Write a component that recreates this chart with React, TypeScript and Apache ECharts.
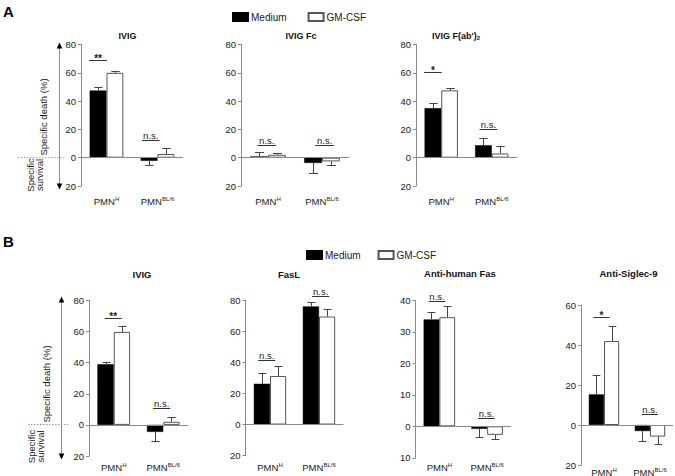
import React, { useEffect, useRef } from 'react';
import * as echarts from 'echarts';

// ---------- data ----------
const categories = ['PMN^H', 'PMN^BL/6'];
const seriesNames = ['Medium', 'GM-CSF'];

// Panel A – IVIG
const aIvigMedium = [47.5, -2.2];
const aIvigMediumErr = [2.5, 3];
const aIvigGm = [60, 2.6];
const aIvigGmErr = [1, 4.5];
const aIvigSig = ['**', 'n.s.'];
const aIvigSigAt = [69, 12.3];

// Panel A – IVIG Fc
const aFcMedium = [0.9, -3.7];
const aFcMediumErr = [3.1, 7.1];
const aFcGm = [2.1, -2.6];
const aFcGmErr = [1.2, 2.5];
const aFcSig = ['n.s.', 'n.s.'];
const aFcSigAt = [9.2, 9.2];

// Panel A – IVIG F(ab')2
const aFabMedium = [35, 8.8];
const aFabMediumErr = [4, 5.4];
const aFabGm = [47.6, 3];
const aFabGmErr = [1.8, 5.1];
const aFabSig = ['*', 'n.s.'];
const aFabSigAt = [60.5, 20];

// Panel B – IVIG
const bIvigMedium = [39, -4.5];
const bIvigMediumErr = [1.5, 5.9];
const bIvigGm = [59.8, 2];
const bIvigGmErr = [3.6, 3.2];
const bIvigSig = ['**', 'n.s.'];
const bIvigSigAt = [69, 10.7];

// Panel B – FasL
const bFasLMedium = [26.2, 75.9];
const bFasLMediumErr = [7.1, 2.8];
const bFasLGm = [31.2, 69.4];
const bFasLGmErr = [6.4, 4.8];
const bFasLSig = ['n.s.', 'n.s.'];
const bFasLSigAt = [41.5, 82.8];

// Panel B – Anti-human Fas
const bFasMedium = [34, -0.8];
const bFasMediumErr = [2.2, 2.5];
const bFasGm = [34.7, -2.7];
const bFasGmErr = [3.6, 1.3];
const bFasSig = ['n.s.', 'n.s.'];
const bFasSigAt = [40, 2.6];

// Panel B – Anti-Siglec-9
const bSigMedium = [15.3, -3];
const bSigMediumErr = [9.8, 5];
const bSigGm = [42, -5.8];
const bSigGmErr = [7.5, 3.7];
const bSigSig = ['*', 'n.s.'];
const bSigSigAt = [54, 5.5];

// ---------- layout ----------
const FONT = 'Liberation Sans, Arial, Helvetica, sans-serif';
const AXIS = '#8a8a8a';
const INK = '#1a1a1a';
const ERR = '#444';
const BAR_FRAC = 0.33;

const panels = [
  { title: '{t|IVIG}', tx: 127.5, ty: 35.5, ts: 9, grid: { left: 81, top: 44.5, width: 102, height: 141.5 }, yMin: -20, yMax: 80, yInt: 20, medium: aIvigMedium, mediumErr: aIvigMediumErr, gm: aIvigGm, gmErr: aIvigGmErr, sig: aIvigSig, sigAt: aIvigSigAt, sigShift: [0, 0.1], labelMargin: 10 },
  { title: '{t|IVIG Fc}', tx: 301, ty: 35.5, ts: 9, grid: { left: 241, top: 44.5, width: 108, height: 141.5 }, yMin: -20, yMax: 80, yInt: 20, medium: aFcMedium, mediumErr: aFcMediumErr, gm: aFcGm, gmErr: aFcGmErr, sig: aFcSig, sigAt: aFcSigAt, sigShift: [0.43, 0.65], labelMargin: 10 },
  { title: "{t|IVIG F(ab')}{s|2}", tx: 456, ty: 35.5, ts: 9, grid: { left: 416, top: 44.5, width: 101, height: 141.5 }, yMin: -20, yMax: 80, yInt: 20, medium: aFabMedium, mediumErr: aFabMediumErr, gm: aFabGm, gmErr: aFabGmErr, sig: aFabSig, sigAt: aFabSigAt, sigShift: [0, 0.3], labelMargin: 10 },
  { title: '{t|IVIG}', tx: 142, ty: 274, ts: 9.5, grid: { left: 89, top: 300.5, width: 99, height: 155.5 }, yMin: -20, yMax: 80, yInt: 20, medium: bIvigMedium, mediumErr: bIvigMediumErr, gm: bIvigGm, gmErr: bIvigGmErr, sig: bIvigSig, sigAt: bIvigSigAt, sigShift: [0.47, 0.4], labelMargin: 6 },
  { title: '{t|FasL}', tx: 289, ty: 274, ts: 9.5, grid: { left: 245.5, top: 300, width: 98, height: 155.7 }, yMin: -20, yMax: 80, yInt: 20, medium: bFasLMedium, mediumErr: bFasLMediumErr, gm: bFasLGm, gmErr: bFasLGmErr, sig: bFasLSig, sigAt: bFasLSigAt, sigShift: [0.3, 0.6], labelMargin: 6 },
  { title: '{t|Anti-human Fas}', tx: 460, ty: 273.5, ts: 9.5, grid: { left: 415.5, top: 300.5, width: 95.5, height: 157.3 }, yMin: -10, yMax: 40, yInt: 10, medium: bFasMedium, mediumErr: bFasMediumErr, gm: bFasGm, gmErr: bFasGmErr, sig: bFasSig, sigAt: bFasSigAt, sigShift: [0.35, 0.46], labelMargin: 4.5 },
  { title: '{t|Anti-Siglec-9}', tx: 628.5, ty: 273.5, ts: 9.5, grid: { left: 581, top: 305, width: 92, height: 160 }, yMin: -20, yMax: 60, yInt: 20, medium: bSigMedium, mediumErr: bSigMediumErr, gm: bSigGm, gmErr: bSigGmErr, sig: bSigSig, sigAt: bSigSigAt, sigShift: [0.33, 0.5], labelMargin: 1.5 },
];

function buildOption() {
  const grid: any[] = [];
  const xAxis: any[] = [];
  const yAxis: any[] = [];
  const series: any[] = [];
  const graphic: any[] = [];

  panels.forEach((p, i) => {
    grid.push({ ...p.grid, containLabel: false, outerBoundsMode: 'none' });
    xAxis.push({
      type: 'category',
      gridIndex: i,
      data: categories,
      position: 'bottom',
      axisLine: { show: false, onZero: false },
      axisTick: { show: false },
      splitLine: { show: false },
      axisLabel: {
        margin: p.labelMargin,
        interval: 0,
        formatter: (v: string) => {
          const [b, s] = v.split('^');
          return `{m|${b}}{s|${s}}`;
        },
        rich: {
          m: { fontSize: 9.5, lineHeight: 11, color: INK, fontFamily: FONT },
          s: { fontSize: 6, lineHeight: 6, verticalAlign: 'top', color: INK, fontFamily: FONT },
        },
      },
    });
    yAxis.push({
      type: 'value',
      gridIndex: i,
      min: p.yMin,
      max: p.yMax,
      interval: p.yInt,
      axisLine: { show: true, lineStyle: { color: AXIS, width: 1 } },
      axisTick: { show: true, length: 3, lineStyle: { color: AXIS } },
      splitLine: { show: false },
      axisLabel: {
        margin: 5,
        fontSize: 9.5,
        color: INK,
        fontFamily: FONT,
        formatter: (v: number) => String(Math.abs(v)),
      },
    });

    series.push({
      name: seriesNames[0],
      type: 'bar',
      xAxisIndex: i,
      yAxisIndex: i,
      data: p.medium,
      barWidth: `${BAR_FRAC * 100}%`,
      barGap: '0%',
      itemStyle: { color: '#000', borderColor: '#000', borderWidth: 0.5 },
      z: 2,
      markLine: {
        silent: true,
        symbol: 'none',
        label: { show: false },
        lineStyle: { color: AXIS, type: 'solid', width: 1 },
        data: [{ yAxis: 0 }],
      },
    });
    series.push({
      name: seriesNames[1],
      type: 'bar',
      xAxisIndex: i,
      yAxisIndex: i,
      data: p.gm,
      barWidth: `${BAR_FRAC * 100}%`,
      barGap: '0%',
      itemStyle: { color: '#fff', borderColor: '#555', borderWidth: 1 },
      z: 2,
    });

    // error bars
    const errData: any[] = [];
    for (let c = 0; c < categories.length; c++) {
      for (let s = 0; s < 2; s++) {
        const v = s === 0 ? p.medium[c] : p.gm[c];
        const e = s === 0 ? p.mediumErr[c] : p.gmErr[c];
        errData.push([c, v + (v >= 0 ? e : -e)]);
      }
    }
    series.push({
      type: 'custom',
      xAxisIndex: i,
      yAxisIndex: i,
      clip: false,
      z: 3,
      silent: true,
      data: errData,
      renderItem: (params: any, api: any) => {
        const idx = params.dataIndex;
        const c = Math.floor(idx / 2);
        const s = idx % 2;
        const v = s === 0 ? p.medium[c] : p.gm[c];
        const e = s === 0 ? p.mediumErr[c] : p.gmErr[c];
        const end = v + (v >= 0 ? e : -e);
        const band = api.size([1, 0])[0];
        const bw = band * BAR_FRAC;
        const p0 = api.coord([c, v]);
        const p1 = api.coord([c, end]);
        const x = Math.round(p0[0] + (s === 0 ? -bw / 2 : bw / 2)) + 0.5;
        const cap = bw * 0.5;
        const y1 = Math.round(p1[1]) + 0.5;
        return {
          type: 'group',
          children: [
            { type: 'line', shape: { x1: x, y1: p0[1], x2: x, y2: y1 }, style: { stroke: ERR, lineWidth: 1 } },
            { type: 'line', shape: { x1: x - cap / 2, y1, x2: x + cap / 2, y2: y1 }, style: { stroke: ERR, lineWidth: 1 } },
          ],
        };
      },
    });

    // significance markers
    series.push({
      type: 'custom',
      xAxisIndex: i,
      yAxisIndex: i,
      clip: false,
      z: 4,
      silent: true,
      data: p.sigAt.map((v, c) => [c, v]),
      renderItem: (params: any, api: any) => {
        const c = params.dataIndex;
        const lvl = p.sigAt[c];
        const label = p.sig[c];
        const band = api.size([1, 0])[0];
        const bw = band * BAR_FRAC;
        const pt = api.coord([c, lvl]);
        const cx = pt[0] - bw / 2 + p.sigShift[c] * bw;
        const half = bw * 0.53;
        const y = Math.round(pt[1]) + 0.5;
        const star = label.indexOf('*') >= 0;
        return {
          type: 'group',
          children: [
            { type: 'line', shape: { x1: cx - half, y1: y, x2: cx + half, y2: y }, style: { stroke: '#333', lineWidth: 1 } },
            {
              type: 'text',
              x: cx,
              y: star ? y + 3 : y - 0.5,
              style: {
                text: label,
                fill: INK,
                fontSize: star ? 10 : 9.5,
                fontWeight: star ? 'bold' : 'normal',
                fontFamily: FONT,
                textAlign: 'center',
                align: 'center',
                textVerticalAlign: 'bottom',
                verticalAlign: 'bottom',
              },
            },
          ],
        };
      },
    });

    graphic.push({
      type: 'text',
      x: p.tx,
      y: p.ty,
      style: {
        text: p.title,
        textAlign: 'center',
        align: 'center',
        textVerticalAlign: 'middle',
        verticalAlign: 'middle',
        rich: {
          t: { fontSize: p.ts, fontWeight: 'bold', fill: '#111', fontFamily: FONT, lineHeight: 11 },
          s: { fontSize: 6, fontWeight: 'bold', fill: '#111', fontFamily: FONT, lineHeight: 6, verticalAlign: 'bottom' },
        },
      },
    });
  });

  const txt = (text: string, x: number, y: number, size: number, extra: any = {}) => ({
    type: 'text',
    x,
    y,
    ...extra,
    style: {
      text,
      fill: INK,
      fontSize: size,
      fontFamily: FONT,
      textAlign: 'center',
      align: 'center',
      textVerticalAlign: 'middle',
      verticalAlign: 'middle',
      lineHeight: 9.5,
      ...(extra.style || {}),
    },
  });

  // panel letters
  graphic.push(txt('A', 8.5, 11.5, 15, { style: { fontWeight: 'bold', fill: '#000' } }));
  graphic.push(txt('B', 8.5, 241.5, 15, { style: { fontWeight: 'bold', fill: '#000' } }));

  // side annotations (A and B)
  const side = [
    { ax: 59.5, top: 42.5, bottom: 189.5, zero: 157.7, dl: 18, dr: 66, deathX: 43.5, deathY: 117, survX: 35, survY: 175 },
    { ax: 61.5, top: 296.5, bottom: 459.5, zero: 424.5, dl: 28, dr: 68, deathX: 46.7, deathY: 384, survX: 36, survY: 446.5 },
  ];
  side.forEach((s) => {
    graphic.push({ type: 'line', shape: { x1: s.ax, y1: s.top + 5, x2: s.ax, y2: s.bottom - 5 }, style: { stroke: AXIS, lineWidth: 1 } });
    graphic.push({ type: 'polygon', shape: { points: [[s.ax - 2.8, s.top + 6], [s.ax + 2.8, s.top + 6], [s.ax, s.top]] }, style: { fill: '#000' } });
    graphic.push({ type: 'polygon', shape: { points: [[s.ax - 2.8, s.bottom - 6], [s.ax + 2.8, s.bottom - 6], [s.ax, s.bottom]] }, style: { fill: '#000' } });
    graphic.push({ type: 'line', shape: { x1: s.dl, y1: s.zero, x2: s.dr, y2: s.zero }, style: { stroke: '#999', lineWidth: 1, lineDash: [1.5, 1.5] } });
    graphic.push(txt('Specific death (%)', s.deathX, s.deathY, 9.5, { rotation: Math.PI / 2 }));
    graphic.push(txt('Specific\nsurvival', s.survX, s.survY, 9.5, { rotation: Math.PI / 2 }));
  });

  const legendBase = {
    data: seriesNames,
    orient: 'horizontal',
    icon: 'rect',
    itemWidth: 15,
    itemHeight: 8,
    selectedMode: false,
    padding: 0,
    textStyle: { fontSize: 10, color: INK, fontFamily: FONT, padding: [0, 0, 0, -2] },
  };

  return {
    animation: false,
    backgroundColor: '#fff',
    textStyle: { fontFamily: FONT },
    legend: [
      { ...legendBase, left: 232, top: 12, itemGap: 21 },
      { ...legendBase, left: 306, top: 250, itemGap: 17 },
    ],
    grid,
    xAxis,
    yAxis,
    series,
    graphic,
  };
}

export default function App() {
  const ref = useRef<HTMLDivElement>(null);
  useEffect(() => {
    if (!ref.current) return;
    const chart = echarts.init(ref.current, undefined, { renderer: 'svg' });
    chart.setOption(buildOption() as any);
    return () => chart.dispose();
  }, []);
  return (
    <div
      ref={ref}
      style={{ position: 'fixed', left: 0, top: 0, width: 675, height: 476, background: '#fff' }}
    />
  );
}
